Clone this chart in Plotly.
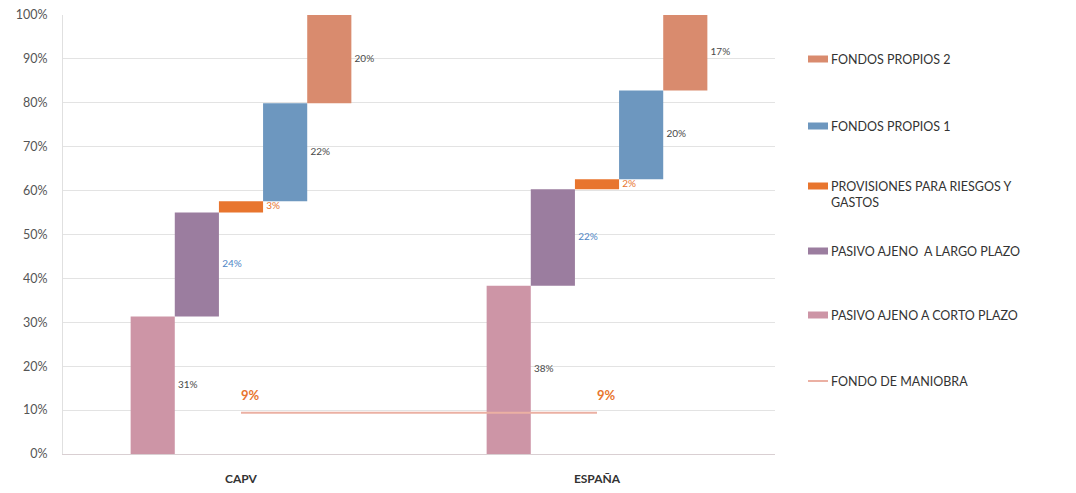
import plotly.graph_objects as go

# Balance structure (% of total liabilities) for two regions
regions = ["CAPV", "ESPAÑA"]

series_names = [
    "PASIVO AJENO A CORTO PLAZO",
    "PASIVO AJENO&nbsp;&nbsp;A LARGO PLAZO",
    "PROVISIONES PARA RIESGOS Y GASTOS",
    "FONDOS PROPIOS 1",
    "FONDOS PROPIOS 2",
]
corto_plazo = [31.3, 38.3]
largo_plazo = [23.7, 22.0]
provisiones = [2.6, 2.3]
fondos_propios_1 = [22.3, 20.2]
fondos_propios_2 = [20.1, 17.2]

fondo_maniobra_name = "FONDO DE MANIOBRA"
fondo_maniobra = [9.4, 9.4]

y_ticks = [0, 10, 20, 30, 40, 50, 60, 70, 80, 90, 100]
y_tick_labels = [f"{t}%" for t in y_ticks]

series_values = [corto_plazo, largo_plazo, provisiones, fondos_propios_1, fondos_propios_2]
bar_colors = ["#cd95a6", "#9b7d9f", "#e8752e", "#6d97bf", "#d98b6e"]
label_colors = ["#4a4a4a", "#4f86c6", "#e8752e", "#4a4a4a", "#4a4a4a"]
line_color = "#ebb0a3"

FONT = "Lato, 'Open Sans', sans-serif"
bar_w = 0.124
label_pad = 0.009        # gap between a bar's right edge and its label (x units)
cat_x = list(range(len(regions)))

fig = go.Figure()

# Floating (waterfall-style) bars: each segment starts where the previous ends
bases = [0.0] * len(regions)
for k, (name, vals, col, lcol) in enumerate(zip(series_names, series_values, bar_colors, label_colors)):
    xs = [c + (k - 2) * bar_w for c in cat_x]
    fig.add_trace(go.Bar(
        x=xs, y=vals, base=list(bases), width=bar_w,
        marker=dict(color=col, line=dict(width=0)),
        name=name, showlegend=False,
    ))
    fig.add_trace(go.Scatter(
        x=[x + bar_w / 2 + label_pad for x in xs],
        y=[b + v / 2 for b, v in zip(bases, vals)],
        mode="text", text=[f"{v:.0f}%" for v in vals],
        textposition="middle right",
        textfont=dict(family=FONT, size=10, color=lcol),
        showlegend=False, hoverinfo="skip",
    ))
    bases = [b + v for b, v in zip(bases, vals)]

# Working-capital line between both regions
fig.add_trace(go.Scatter(
    x=cat_x, y=fondo_maniobra, mode="lines",
    line=dict(color=line_color, width=2),
    name=fondo_maniobra_name, showlegend=False,
))
for x, v in zip(cat_x, fondo_maniobra):
    fig.add_annotation(x=x, y=v, text=f"<b>{v:.0f}%</b>", showarrow=False,
                       xanchor="left", yanchor="middle", yshift=18, xshift=-2,
                       font=dict(family=FONT, size=13, color="#e8752e"))

# Legend on the right, drawn in paper coordinates
L, R, T, B = 63, 775, 15, 454
def px_x(p):
    return (p - L) / (R - L)
def px_y(p):
    return (B - p) / (B - T)

legend_items = list(zip(series_names, bar_colors))[::-1]
legend_centers = [59, 126, 186, 251, 315]
for (name, col), cy in zip(legend_items, legend_centers):
    fig.add_shape(type="rect", xref="paper", yref="paper",
                  x0=px_x(808), x1=px_x(828), y0=px_y(cy + 3.5), y1=px_y(cy - 3.5),
                  fillcolor=col, line=dict(width=0))
    label = name.replace("RIESGOS Y ", "RIESGOS Y<br>")
    fig.add_annotation(xref="paper", yref="paper", x=px_x(829), y=px_y(cy - 9),
                       text=label, showarrow=False, xanchor="left", yanchor="top",
                       align="left",
                       font=dict(family=FONT, size=12.5, color="#333333"))
fig.add_shape(type="line", xref="paper", yref="paper",
              x0=px_x(808), x1=px_x(828), y0=px_y(381), y1=px_y(381),
              line=dict(color=line_color, width=2))
fig.add_annotation(xref="paper", yref="paper", x=px_x(829), y=px_y(381 - 9),
                   text=fondo_maniobra_name, showarrow=False, xanchor="left", yanchor="top",
                   font=dict(family=FONT, size=12.5, color="#333333"))

fig.update_layout(
    width=1076, height=493,
    margin=dict(l=L, r=1076 - R, t=T, b=493 - B, autoexpand=False),
    paper_bgcolor="white", plot_bgcolor="white",
    barmode="overlay", showlegend=False,
    xaxis=dict(
        range=[-0.5, len(regions) - 0.5], automargin=False,
        tickvals=cat_x, ticktext=[f"<b>{r}</b>" for r in regions],
        tickfont=dict(family=FONT, size=12, color="#333333"),
        showgrid=False, zeroline=False,
        showline=True, linecolor="#d9cfd2", linewidth=1,
        ticks="", ticklabelstandoff=14,
    ),
    yaxis=dict(
        range=[0, 100], automargin=False,
        tickvals=y_ticks, ticktext=y_tick_labels,
        tickfont=dict(family=FONT, size=12.5, color="#555555"),
        showgrid=True, gridcolor="#e3e3e3", gridwidth=1,
        zeroline=False, showline=True, linecolor="#e0e0e0",
        ticks="", ticklabelstandoff=12,
    ),
)

fig.write_html("out.html")
